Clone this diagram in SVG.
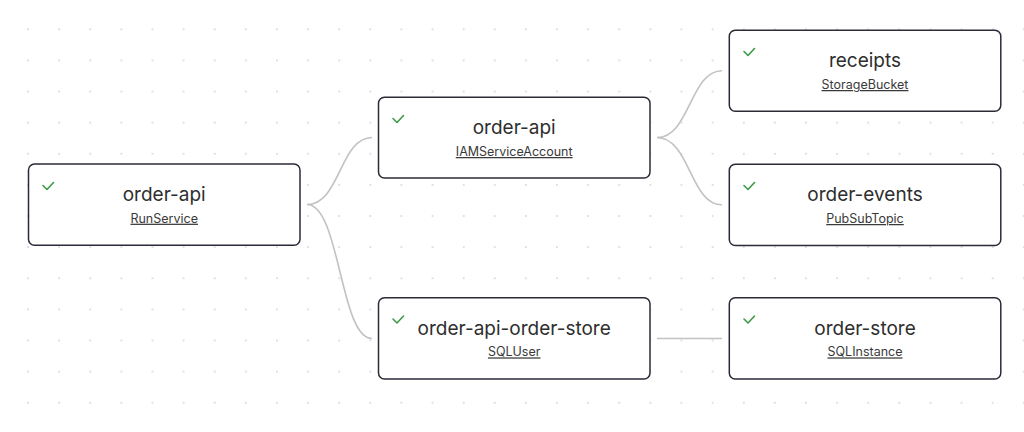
<svg xmlns="http://www.w3.org/2000/svg" width="1024" height="432" viewBox="0 0 1024 432">
  <style>
    .node rect { fill: #ffffff; stroke: #2b2b38; stroke-width: 1.5; }
    .title { font-family: Inter, "Noto Sans", "Liberation Sans", sans-serif; font-size: 19px; fill: #2e2e2e; text-anchor: middle; }
    .kind { font-family: Inter, "Noto Sans", "Liberation Sans", sans-serif; font-size: 12.5px; fill: #3a3a3a; text-anchor: middle; text-decoration: underline; }
    .check { fill: none; stroke: #3c9a46; stroke-width: 1.6; stroke-linecap: round; stroke-linejoin: round; }
    .edge { fill: none; stroke: #c2c2c2; stroke-width: 1.6; }
  </style>
  <defs>
    <pattern id="dots" patternUnits="userSpaceOnUse" x="12.44" y="13.74" width="31.12" height="31.12">
      <circle cx="15.56" cy="15.56" r="0.8" fill="#b8b8b8"/>
    </pattern>
  </defs>
  <rect x="0" y="0" width="1024" height="432" fill="#ffffff"/>
  <rect x="0" y="0" width="1024" height="432" fill="url(#dots)"/>

  <g id="connectors">
    <path class="edge" d="M307,204.5 C340,204.5 340,137.5 372,137.5"/>
    <path class="edge" d="M307,204.5 C340,204.5 340,338.5 372,338.5"/>
    <path class="edge" d="M657,137.5 C690,137.5 690,70.7 722,70.7"/>
    <path class="edge" d="M657,137.5 C690,137.5 690,204.8 722,204.8"/>
    <path class="edge" d="M657,338.5 L722,338.5"/>
  </g>

  <g id="node-runservice" class="node">
    <rect x="28.5" y="164" width="271.5" height="81.3" rx="6"/>
    <path class="check" d="M43,185.5 L47,189.5 L53.5,182.5"/>
    <text class="title" x="164.2" y="201">order-api</text>
    <text class="kind" x="164.2" y="222.7">RunService</text>
  </g>

  <g id="node-iam" class="node">
    <rect x="378.5" y="97.3" width="271.5" height="80.7" rx="6"/>
    <path class="check" d="M393,118.5 L397,122.5 L403.5,115.5"/>
    <text class="title" x="514.2" y="134.3">order-api</text>
    <text class="kind" x="514.2" y="156">IAMServiceAccount</text>
  </g>

  <g id="node-sqluser" class="node">
    <rect x="378.5" y="297.7" width="271.5" height="81.3" rx="6"/>
    <path class="check" d="M393,319 L397,323 L403.5,316"/>
    <text class="title" x="514.2" y="334.7">order-api-order-store</text>
    <text class="kind" x="514.2" y="356.4">SQLUser</text>
  </g>

  <g id="node-receipts" class="node">
    <rect x="729.3" y="30.3" width="271.5" height="81" rx="6"/>
    <path class="check" d="M744,51.5 L748,55.5 L754.5,48.5"/>
    <text class="title" x="865" y="67.3">receipts</text>
    <text class="kind" x="865" y="89">StorageBucket</text>
  </g>

  <g id="node-events" class="node">
    <rect x="729.3" y="164.3" width="271.5" height="81.3" rx="6"/>
    <path class="check" d="M744,185.5 L748,189.5 L754.5,182.5"/>
    <text class="title" x="865" y="201.3">order-events</text>
    <text class="kind" x="865" y="223">PubSubTopic</text>
  </g>

  <g id="node-sqlinstance" class="node">
    <rect x="729.3" y="297.7" width="271.5" height="81.3" rx="6"/>
    <path class="check" d="M744,319 L748,323 L754.5,316"/>
    <text class="title" x="865" y="334.7">order-store</text>
    <text class="kind" x="865" y="356.4">SQLInstance</text>
  </g>
</svg>
